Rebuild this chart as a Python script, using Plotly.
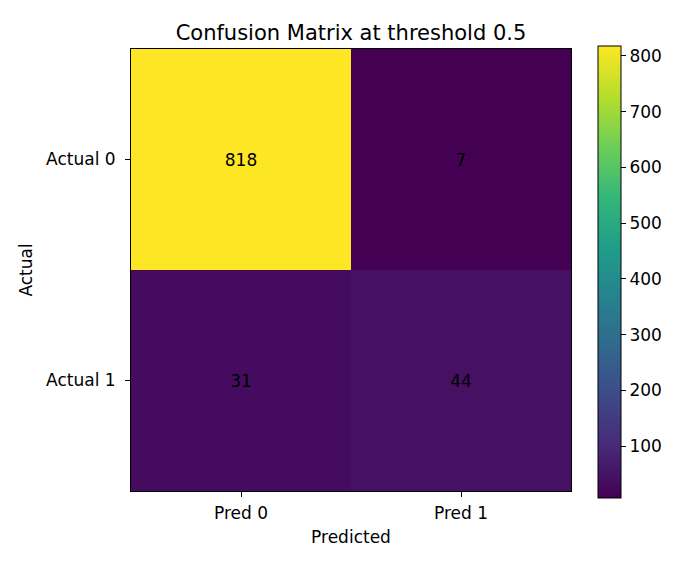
import plotly.graph_objects as go

x_labels = ["Pred 0", "Pred 1"]
y_labels = ["Actual 0", "Actual 1"]
counts = [[818, 7], [31, 44]]

FONT = "DejaVu Sans"

fig = go.Figure(go.Heatmap(
    z=counts, x=x_labels, y=y_labels,
    colorscale="Viridis", zmin=7, zmax=818,
    texttemplate="%{z}", textfont=dict(color="black", size=17, family=FONT),
    hoverinfo="skip",
    colorbar=dict(
        x=1.061, xanchor="left", y=0.4957, yanchor="middle",
        thickness=23, thicknessmode="pixels", len=452, lenmode="pixels",
        outlinewidth=1, outlinecolor="black",
        ticks="outside", ticklen=5, tickcolor="black",
        tickvals=[100, 200, 300, 400, 500, 600, 700, 800],
        tickfont=dict(size=17, color="black", family=FONT),
        xpad=0, ypad=0,
    ),
))

fig.update_layout(
    width=700, height=571,
    margin=dict(l=123, r=137, t=41, b=88),
    paper_bgcolor="white", plot_bgcolor="white",
    font=dict(family=FONT, color="black", size=17),
    title=dict(text="Confusion Matrix at threshold 0.5", x=0.5, xanchor="center",
               xref="paper",
               y=1 - 25 / 571, yanchor="middle", font=dict(size=21, color="black")),
)
fig.update_xaxes(
    showline=True, linecolor="black", linewidth=1, mirror=True,
    ticks="outside", ticklen=5, tickcolor="black", ticklabelstandoff=2,
    title=dict(text="Predicted", standoff=8, font=dict(size=17)),
    tickfont=dict(size=17), showgrid=False,
)
fig.update_yaxes(
    autorange="reversed",
    showline=True, linecolor="black", linewidth=1, mirror=True,
    ticks="outside", ticklen=5, tickcolor="black", ticklabelstandoff=6,
    title=dict(text="Actual", standoff=9, font=dict(size=17)),
    tickfont=dict(size=17), showgrid=False,
)

fig.write_html("out.html")
